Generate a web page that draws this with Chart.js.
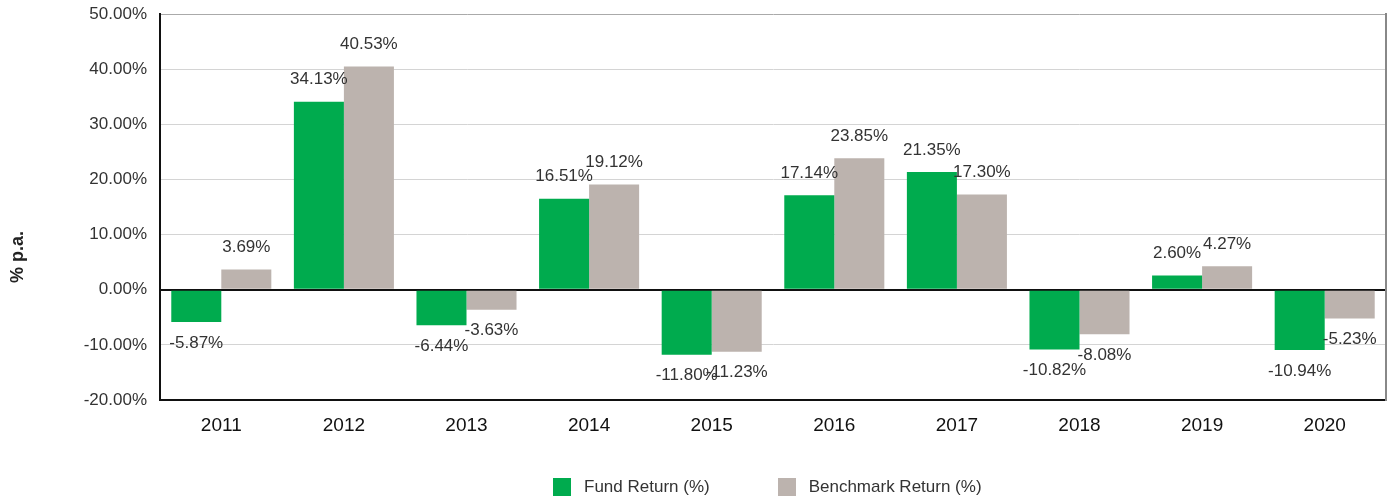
<!DOCTYPE html>
<html>
<head>
<meta charset="utf-8">
<script src="https://cdn.jsdelivr.net/npm/chart.js@4"></script>
<style>
    body { margin: 0; background: #fff; overflow: hidden; }
    #wrap { position: relative; width: 1392px; height: 500px; overflow: hidden; }
    #perf { position: absolute; left: 0; top: -9px; }
    #legend { position: absolute; left: 553px; top: 477px; display: flex; gap: 68px;
        font: 17px 'Liberation Sans', Arial, sans-serif; color: #333; }
    #legend .item { display: flex; align-items: center; }
    #legend .box { width: 18px; height: 18px; margin-right: 13px; }
</style>
</head>
<body>
<div id="wrap">
    <canvas id="perf" width="1392" height="509"></canvas>
    <div id="legend"></div>
</div>
<script>
const years = ['2011', '2012', '2013', '2014', '2015', '2016', '2017', '2018', '2019', '2020'];
const fund_return = [-5.87, 34.13, -6.44, 16.51, -11.80, 17.14, 21.35, -10.82, 2.60, -10.94];
const benchmark_return = [3.69, 40.53, -3.63, 19.12, -11.23, 23.85, 17.30, -8.08, 4.27, -5.23];
const series_names = ['Fund Return (%)', 'Benchmark Return (%)'];
const y_ticks = [-20, -10, 0, 10, 20, 30, 40, 50];

const font_family = "'Liberation Sans', Arial, sans-serif";

// value labels above / below each bar
const bar_labels = {
    id: 'bar_labels',
    afterDatasetsDraw(chart) {
        let ctx = chart.ctx;
        ctx.save();
        ctx.font = '17px ' + font_family;
        ctx.fillStyle = '#333';
        ctx.textAlign = 'center';
        ctx.textBaseline = 'middle';
        chart.data.datasets.forEach(function (ds, d) {
            chart.getDatasetMeta(d).data.forEach(function (bar, i) {
                let v = ds.data[i];
                let y = v >= 0 ? bar.y - 22 : bar.y + 21;
                ctx.fillText(v.toFixed(2) + '%', bar.x, y);
            });
        });
        ctx.restore();
    }
};

// rotated y title (canvas is shifted up by 9px)
const y_title = {
    id: 'y_title',
    afterDraw(chart) {
        let ctx = chart.ctx;
        ctx.save();
        ctx.translate(18, 266);
        ctx.rotate(-Math.PI / 2);
        ctx.font = 'bold 18px ' + font_family;
        ctx.fillStyle = '#222';
        ctx.textAlign = 'center';
        ctx.textBaseline = 'middle';
        ctx.fillText('% p.a.', 0, 0);
        ctx.restore();
    }
};

let myChart = document.getElementById('perf').getContext('2d');
let perf_chart = new Chart(myChart, {
    type: 'bar',
    data: {
        labels: years,
        datasets: [{
            label: series_names[0],
            data: fund_return,
            backgroundColor: '#00ab4e',
            categoryPercentage: 0.816,
            barPercentage: 1.0
        }, {
            label: series_names[1],
            data: benchmark_return,
            backgroundColor: '#bcb3ae',
            categoryPercentage: 0.816,
            barPercentage: 1.0
        }]
    },
    options: {
        responsive: false,
        animation: false,
        layout: {
            padding: { top: 5, right: 6, bottom: 60, left: 0 }
        },
        plugins: {
            legend: { display: false },
            tooltip: { enabled: false }
        },
        scales: {
            x: {
                grid: { display: false, drawTicks: false },
                border: { color: '#111', width: 2 },
                ticks: {
                    color: '#111',
                    padding: 14,
                    font: { family: font_family, size: 19 }
                },
                afterFit: function (s) { s.height = 40; }
            },
            y: {
                min: -20,
                max: 50,
                afterBuildTicks: function (s) { s.ticks = y_ticks.map(v => ({ value: v })); },
                grid: {
                    drawTicks: false,
                    color: function (c) {
                        if (c.tick && c.tick.value === 0) return '#111';
                        if (c.tick && c.tick.value === 50) return '#aaa';
                        return '#d4d4d4';
                    },
                    lineWidth: function (c) {
                        return (c.tick && c.tick.value === 0) ? 2 : 1;
                    }
                },
                border: { color: '#111', width: 2 },
                ticks: {
                    color: '#333',
                    padding: 13,
                    font: { family: font_family, size: 17 },
                    callback: function (v) { return v.toFixed(2) + '%'; }
                },
                afterFit: function (s) { s.width = 160; }
            },
            y2: {
                position: 'right',
                min: -20,
                max: 50,
                grid: { display: false, drawTicks: false },
                border: { color: '#888', width: 2 },
                ticks: { display: false },
                afterFit: function (s) { s.width = 0; }
            }
        }
    },
    plugins: [bar_labels, y_title]
});

// html legend below the canvas
let legend = document.getElementById('legend');
perf_chart.data.datasets.forEach(function (ds) {
    legend.innerHTML += "<div class='item'><span class='box' style='background:" + ds.backgroundColor + "'></span>" + ds.label + "</div>";
});
</script>
</body>
</html>
